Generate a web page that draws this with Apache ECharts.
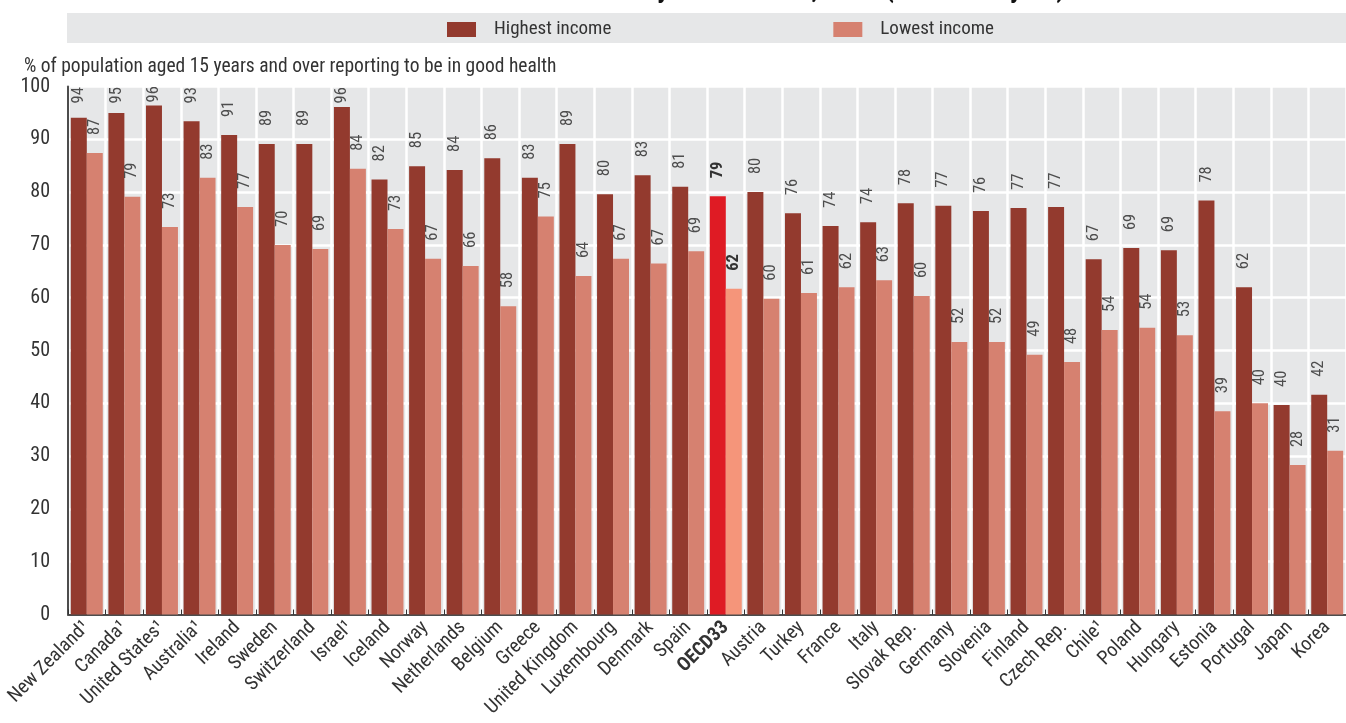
<!DOCTYPE html>
<html>
<head>
<meta charset="utf-8">
<script src="https://cdn.jsdelivr.net/npm/echarts@6/dist/echarts.min.js"></script>
<style>
html,body{margin:0;padding:0;background:#fff;}
#chart{width:1346px;height:723px;}
</style>
</head>
<body>
<div id="chart"></div>
<script>
const categories = ['New Zealand¹','Canada¹','United States¹','Australia¹','Ireland','Sweden','Switzerland','Israel¹','Iceland','Norway','Netherlands','Belgium','Greece','United Kingdom','Luxembourg','Denmark','Spain','OECD33','Austria','Turkey','France','Italy','Slovak Rep.','Germany','Slovenia','Finland','Czech Rep.','Chile¹','Poland','Hungary','Estonia','Portugal','Japan','Korea'];
const highestIncome = [94.1,95.0,96.4,93.4,90.8,89.1,89.1,96.1,82.4,84.9,84.2,86.4,82.7,89.1,79.6,83.2,81.0,79.2,80.0,76.0,73.6,74.3,77.9,77.4,76.4,77.0,77.2,67.3,69.4,69.0,78.4,62.0,39.7,41.6];
const lowestIncome = [87.4,79.1,73.4,82.7,77.2,70.0,69.2,84.4,73.0,67.4,66.0,58.4,75.4,64.1,67.4,66.5,68.8,61.7,59.8,60.9,62.0,63.3,60.3,51.6,51.6,49.2,47.8,53.9,54.3,52.9,38.5,40.0,28.3,31.0];
const yTicks = [0,10,20,30,40,50,60,70,80,90,100];
const seriesNames = ['Highest income','Lowest income'];
const titleText = 'Perceived health status by income level, 2017 (or nearest year)';
const yAxisTitle = '% of population aged 15 years and over reporting to be in good health';

const FONT = '"Liberation Sans Narrow","Arial Narrow","Roboto Condensed",Roboto,sans-serif';
const C_HIGH = '#933a2e', C_LOW = '#d68170', C_OECD_HIGH = '#df1b24', C_OECD_LOW = '#f5957a';
const oecdIdx = categories.indexOf('OECD33');

function buildData(vals, oecdColor) {
  return vals.map((v, i) => {
    const dist = Math.min(18, Math.max(3, (100 - v) * 5.28 - 17));
    const item = { value: v, label: { distance: dist } };
    if (i === oecdIdx) {
      item.itemStyle = { color: oecdColor };
      item.label.fontWeight = 'bold';
      item.label.color = '#333';
    }
    return item;
  });
}

const labelCommon = {
  show: true,
  position: 'top',
  rotate: 90,
  align: 'left',
  verticalAlign: 'middle',
  fontFamily: FONT,
  fontSize: 16.5,
  color: '#4d4d4d',
  formatter: p => String(Math.round(p.value))
};

const chart = echarts.init(document.getElementById('chart'), null, { renderer: 'canvas' });
chart.setOption({
  animation: false,
  textStyle: { fontFamily: FONT },
  graphic: [
    { type: 'rect', left: 67, top: 13, shape: { width: 1279, height: 30 }, style: { fill: '#e6e7e8' }, z: -1 },
    { type: 'text', x: 1065, y: 4, style: { text: titleText, align: 'right', verticalAlign: 'bottom', font: 'bold 27px ' + FONT, fill: '#111' } }
  ],
  title: {
    text: yAxisTitle, left: 19, top: 52,
    textStyle: { fontFamily: FONT, fontSize: 19.5, fontWeight: 'normal', color: '#333' }
  },
  legend: {
    data: seriesNames,
    left: 447, top: 20,
    itemWidth: 29, itemHeight: 15, itemGap: 222,
    icon: 'rect', padding: 0,
    textStyle: { fontFamily: FONT, fontSize: 19, color: '#333', padding: [0, 0, 0, 13] }
  },
  grid: {
    left: 68, right: -7, top: 86.5, bottom: 108.5,
    show: true, backgroundColor: '#e6e7e8', borderWidth: 0
  },
  xAxis: {
    type: 'category',
    data: categories,
    axisLine: { lineStyle: { color: '#4d4d4d', width: 2 } },
    axisTick: { show: true, inside: true, length: 5, interval: 0, lineStyle: { color: '#333', width: 1 } },
    splitLine: { show: true, interval: 0, lineStyle: { color: '#ffffff', width: 2.5 } },
    axisLabel: {
      interval: 0, rotate: 45, margin: 10,
      fontFamily: FONT, fontSize: 19.5, color: '#333',
      formatter: v => v === 'OECD33' ? '{b|' + v + '}' : v,
      rich: { b: { fontWeight: 'bold', fontFamily: FONT, fontSize: 19.5, color: '#333' } }
    }
  },
  yAxis: {
    type: 'value',
    min: yTicks[0], max: yTicks[yTicks.length - 1], interval: yTicks[1] - yTicks[0],
    axisLine: { show: true, lineStyle: { color: '#4d4d4d', width: 2 } },
    axisTick: { show: false },
    splitLine: { show: true, lineStyle: { color: '#ffffff', width: 2.5 } },
    axisLabel: { margin: 18, fontFamily: FONT, fontSize: 20, color: '#333' }
  },
  series: [
    {
      name: seriesNames[0], type: 'bar',
      data: buildData(highestIncome, C_OECD_HIGH),
      itemStyle: { color: C_HIGH },
      barGap: '0%', barCategoryGap: '15%',
      label: labelCommon
    },
    {
      name: seriesNames[1], type: 'bar',
      data: buildData(lowestIncome, C_OECD_LOW),
      itemStyle: { color: C_LOW },
      barGap: '0%', barCategoryGap: '15%',
      label: labelCommon
    }
  ]
});
</script>
</body>
</html>
